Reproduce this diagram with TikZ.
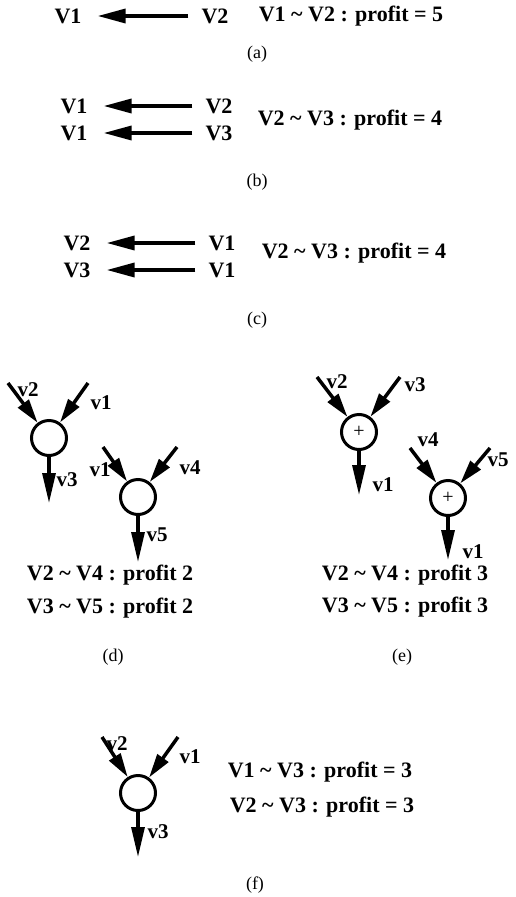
\documentclass[tikz,border=0pt]{standalone}
\usepackage{fontspec}
\setmainfont{Liberation Serif}
\usepackage{tikz}
\usetikzlibrary{arrows.meta}
\tikzset{
  var/.style     = {font=\fontsize{22}{26}\selectfont\bfseries, inner sep=2pt},
  wlab/.style    = {font=\fontsize{21}{24}\selectfont\bfseries, inner sep=0pt},
  profit/.style  = {font=\fontsize{22}{26}\selectfont\bfseries, inner sep=0pt},
  caption/.style = {font=\fontsize{18}{20}\selectfont, inner sep=0pt},
  op/.style      = {circle, draw, line width=3pt, minimum size=35pt,
                    inner sep=0pt, font=\fontsize{20}{20}\selectfont},
  move/.style    = {-{Triangle[length=28pt,width=14pt]}, line width=3.5pt,
                    shorten >=14pt, shorten <=11pt},
  feed/.style    = {-{Triangle[length=24pt,width=13pt]}, line width=3.5pt},
  drain/.style   = {-{Triangle[length=30pt,width=13pt]}, line width=3.2pt},
}
\newcommand{\tl}{\textasciitilde}

\begin{document}
\begin{tikzpicture}[x=1pt,y=-1pt]
\useasboundingbox (0,0) rectangle (515,897);
% (a)
\node[var] (av1) at (68,16) {V1};
\node[var] (av2) at (215,16) {V2};
\draw[move] (av2) -- (av1);
\node[profit] (ap) at (351,16) {V1 \tl{} V2 : profit = 5};
\node[caption] (acap) at (257,54) {(a)};
% (b)
\node[var] (bv1) at (74,106) {V1};
\node[var] (bv2) at (219,106) {V2};
\node[var] (bw1) at (74,133) {V1};
\node[var] (bv3) at (219,133) {V3};
\draw[move] (bv2) -- (bv1);
\draw[move] (bv3) -- (bw1);
\node[profit] (bp) at (350,120) {V2 \tl{} V3 : profit = 4};
\node[caption] (bcap) at (257,182) {(b)};
% (c)
\node[var] (cv2) at (77,243) {V2};
\node[var] (cv1) at (222,243) {V1};
\node[var] (cv3) at (77,270) {V3};
\node[var] (cw1) at (222,270) {V1};
\draw[move] (cv1) -- (cv2);
\draw[move] (cw1) -- (cv3);
\node[profit] (cp) at (354,253) {V2 \tl{} V3 : profit = 4};
\node[caption] (ccap) at (257,320) {(c)};
% (d)
\node[op] (d1) at (49,438) {};
\coordinate (d1a) at (8,383);
\coordinate (d1b) at (88,383);
\coordinate (d1o) at (49,503);
\draw[feed] (d1a) -- (d1);
\draw[feed] (d1b) -- (d1);
\draw[drain] (d1.south) -- (d1o);
\node[wlab] (d1la) at (28,390) {v2};
\node[wlab] (d1lb) at (101,403) {v1};
\node[wlab] (d1lo) at (67,480) {v3};
\node[op] (d2) at (138,497) {};
\coordinate (d2a) at (103,447);
\coordinate (d2b) at (177,447);
\coordinate (d2o) at (138,562);
\node[wlab] (d2la) at (100,470) {v1};
\draw[feed] (d2a) -- (d2);
\draw[feed] (d2b) -- (d2);
\draw[drain] (d2.south) -- (d2o);
\node[wlab] (d2lb) at (190,468) {v4};
\node[wlab] (d2lo) at (157,535) {v5};
\node[profit] (dp1) at (110,575) {V2 \tl{} V4 : profit 2};
\node[profit] (dp2) at (110,608) {V3 \tl{} V5 : profit 2};
\node[caption] (dcap) at (113,657) {(d)};
% (e)
\node[op] (e1) at (359,432) {+};
\coordinate (e1a) at (317,377);
\coordinate (e1b) at (400,377);
\coordinate (e1o) at (359,495);
\draw[feed] (e1a) -- (e1);
\draw[feed] (e1b) -- (e1);
\draw[drain] (e1.south) -- (e1o);
\node[wlab] (e1la) at (337,382) {v2};
\node[wlab] (e1lb) at (415,385) {v3};
\node[wlab] (e1lo) at (383,485) {v1};
\node[op] (e2) at (448,498) {+};
\coordinate (e2a) at (410,448);
\coordinate (e2b) at (490,448);
\coordinate (e2o) at (448,560);
\draw[feed] (e2a) -- (e2);
\draw[feed] (e2b) -- (e2);
\draw[drain] (e2.south) -- (e2o);
\node[wlab] (e2la) at (428,440) {v4};
\node[wlab] (e2lb) at (498,460) {v5};
\node[wlab] (e2lo) at (473,552) {v1};
\node[profit] (ep1) at (405,575) {V2 \tl{} V4 : profit 3};
\node[profit] (ep2) at (405,607) {V3 \tl{} V5 : profit 3};
\node[caption] (ecap) at (402,657) {(e)};
% (f)
\node[op] (f1) at (138,793) {};
\coordinate (f1a) at (102,737);
\coordinate (f1b) at (178,737);
\coordinate (f1o) at (138,857);
\draw[feed] (f1a) -- (f1);
\draw[feed] (f1b) -- (f1);
\draw[drain] (f1.south) -- (f1o);
\node[wlab] (f1la) at (117,744) {v2};
\node[wlab] (f1lb) at (190,757) {v1};
\node[wlab] (f1lo) at (158,832) {v3};
\node[profit] (fp1) at (320,772) {V1 \tl{} V3 : profit = 3};
\node[profit] (fp2) at (322,807) {V2 \tl{} V3 : profit = 3};
\node[caption] (fcap) at (255,885) {(f)};
\end{tikzpicture}
\end{document}
